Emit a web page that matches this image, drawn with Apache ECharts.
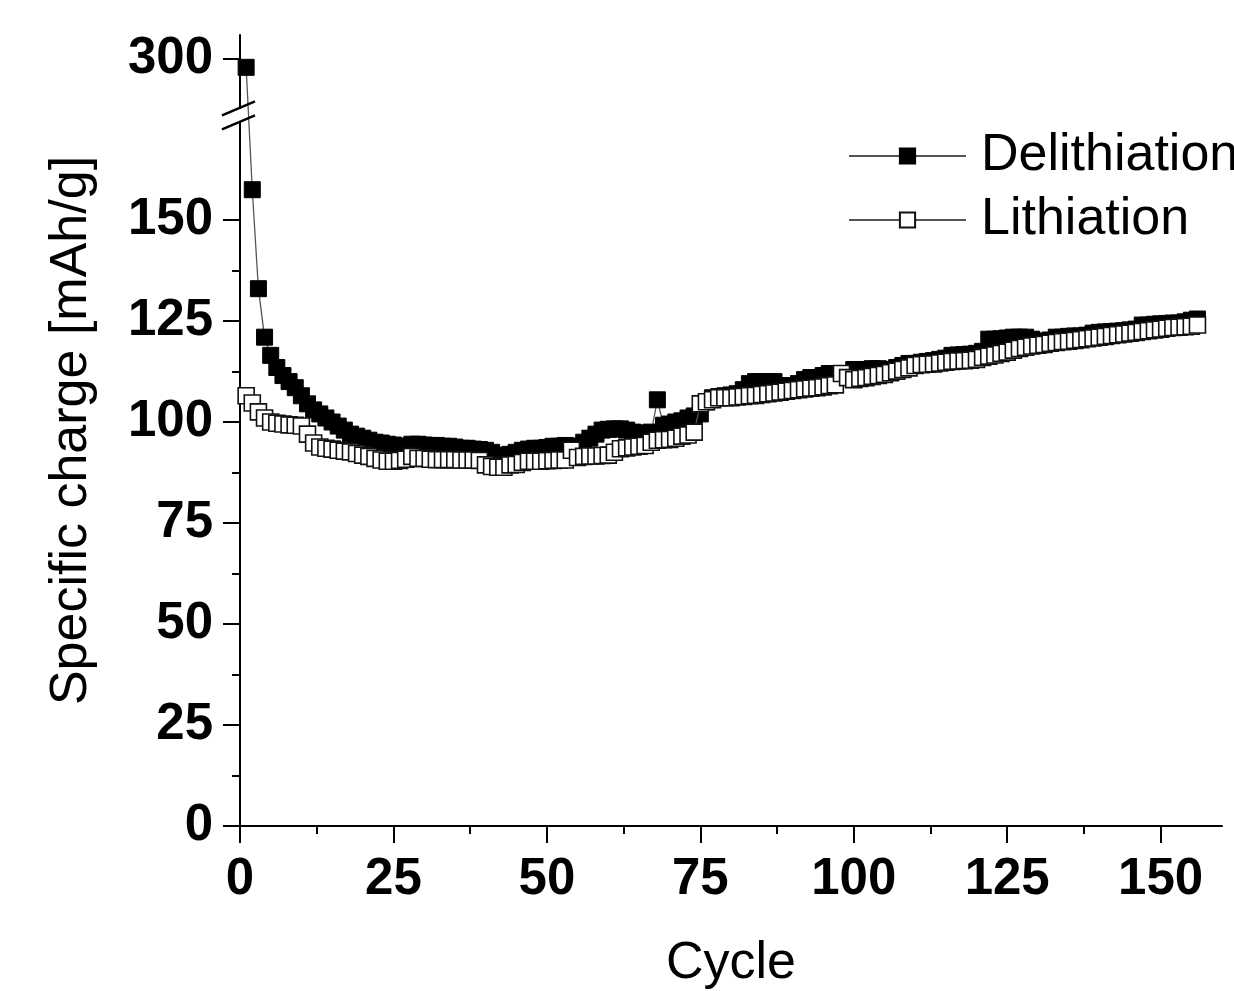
<!DOCTYPE html>
<html>
<head>
<meta charset="utf-8">
<script src="https://cdn.jsdelivr.net/npm/echarts@6/dist/echarts.min.js"></script>
<style>
  html, body { margin: 0; padding: 0; background: #fff; }
  #chart { width: 1234px; height: 991px; }
</style>
</head>
<body>
<div id="chart"></div>
<script>
// 读图估计的数据，每个循环一个点
const delithiation = [
  298, 157.5, 133, 121, 116.5, 113.5, 111.5, 110, 108.5, 106.5,
  104.5, 103, 102, 101, 100, 99, 98, 97, 96.5, 96,
  95.5, 95, 94.8, 94.5, 94.3, 94, 94, 94.5, 94.5, 94.3,
  94.2, 94.2, 94, 94, 93.8, 93.5, 93.5, 93.3, 93.2, 93,
  92.5, 91, 91.8, 92, 92.5, 93, 93.3, 93.5, 93.5, 93.7,
  94, 94, 94.2, 94, 94, 95, 96, 97, 98, 98.2,
  98.3, 98.3, 98, 97.5, 97.3, 97.2, 97.5, 105.5, 99.2, 99.5,
  100, 100.3, 101, 101.5, 102, 105, 106, 106.3, 106.5, 106.7,
  107, 108, 109.5, 110, 110, 110, 110, 109, 109, 109,
  109.5, 110.5, 111, 111, 111.5, 112, 112, 111.5, 112, 113,
  113, 113, 113.2, 113.2, 113, 113, 113.5, 114, 114.5, 114.5,
  114.8, 115, 115.2, 115.5, 115.8, 116.5, 116.6, 116.7, 116.8, 117,
  117.5, 120.5, 120.5, 120.6, 120.8, 121, 121, 121, 120.5, 120,
  120, 120.3, 121, 121, 121.2, 121.3, 121.3, 121.5, 122, 122.2,
  122.3, 122.4, 122.5, 122.6, 122.8, 123, 124, 124, 124.2, 124.3,
  124.4, 124.5, 124.5, 124.8, 125.2, 125.5
];
const lithiation = [
  106.5, 104.7, 102.5, 101, 100, 99.7, 99.5, 99.3, 99.2, 99,
  97, 94.8, 93.8, 93.5, 93.3, 93, 92.8, 92.6, 92.2, 91.8,
  91.5, 91, 90.6, 90.3, 90.3, 90.5, 90.8, 91.5, 91, 91,
  90.8, 90.7, 90.7, 90.7, 90.7, 90.6, 90.6, 90.6, 90.5, 89.4,
  89, 88.8, 88.8, 89.4, 89.5, 90, 90.3, 90.3, 90.3, 90.4,
  90.5, 90.6, 90.6, 93, 91.2, 91.5, 91.6, 91.6, 91.7, 91.8,
  92.5, 93.4, 93.6, 93.8, 94, 94.2, 95, 95.5, 95.6, 95.7,
  96, 96.5, 96.8, 97.5, 104.5, 105, 105.5, 106, 106, 106,
  106.2, 106.3, 106.5, 106.6, 106.8, 107, 107.2, 107.4, 107.6, 107.8,
  108, 108.2, 108.4, 108.5, 108.7, 109, 109.2, 112, 111, 110.5,
  110.8, 111, 111.3, 111.5, 111.8, 112.2, 112.6, 113, 113.4, 114,
  114.2, 114.3, 114.4, 114.6, 114.8, 115, 115.1, 115.2, 115.3, 115.5,
  116, 116.3, 116.6, 117, 117.3, 117.8, 118.2, 118.5, 118.8, 119,
  119.2, 119.5, 119.7, 119.9, 120, 120.2, 120.4, 120.6, 120.8, 121,
  121.2, 121.4, 121.6, 121.8, 122, 122.2, 122.4, 122.6, 122.8, 123,
  123.2, 123.4, 123.5, 123.6, 123.7, 124
];
const cycles = delithiation.map((_, i) => i + 1);
const seriesNames = ["Delithiation", "Lithiation"];
const yTicks = [0, 25, 50, 75, 100, 125, 150, 300];
const xTicks = [0, 25, 50, 75, 100, 125, 150];
const yBreak = { start: 174, end: 288 };

const font = "'Liberation Sans', Arial, sans-serif";
const myChart = echarts.init(document.getElementById("chart"));

function axisCommon(ticks) {
  return {
    axisLine: { show: true, lineStyle: { color: "#000", width: 2 } },
    axisTick: {
      show: true,
      inside: false,
      length: 17,
      customValues: ticks,
      lineStyle: { color: "#000", width: 2 },
    },
    minorTick: { show: true, splitNumber: 2, length: 8, lineStyle: { color: "#000", width: 2 } },
    splitLine: { show: false },
    axisLabel: {
      customValues: ticks,
      fontFamily: font,
      fontSize: 51,
      fontWeight: "bold",
      color: "#000",
    },
    nameTextStyle: { fontFamily: font, fontSize: 52, color: "#000" },
  };
}

const xAxis = axisCommon(xTicks);
xAxis.axisLabel.margin = 28;
const yAxis = axisCommon(yTicks);
yAxis.axisLabel.margin = 27;

var option = {
  backgroundColor: "#fff",
  animation: false,
  grid: {
    left: 240,
    right: 12,
    top: 35,
    bottom: 165,
    containLabel: false,
    outerBoundsMode: "none",
  },
  legend: {
    orient: "vertical",
    left: 843,
    top: 125,
    itemWidth: 117,
    itemHeight: 19,
    itemGap: 12,
    data: seriesNames,
    textStyle: { fontFamily: font, fontSize: 52, color: "#000", lineHeight: 50, padding: [0, 0, 0, 10] },
  },
  xAxis: Object.assign(xAxis, {
    type: "value",
    min: 0,
    max: 160,
    interval: 25,
    name: "Cycle",
    nameLocation: "middle",
    nameGap: 112,
  }),
  yAxis: Object.assign(yAxis, {
    type: "value",
    min: 0,
    max: 306,
    interval: 25,
    name: "Specific charge [mAh/g]",
    nameLocation: "middle",
    nameGap: 142,
    breaks: [{ start: yBreak.start, end: yBreak.end, gap: 3.8 }],
    breakArea: { show: false, expandOnClick: false },
  }),
  series: [
    {
      name: seriesNames[0],
      type: "line",
      data: cycles.map((c, i) => [c, delithiation[i]]),
      symbol: "rect",
      symbolSize: 16,
      showAllSymbol: true,
      itemStyle: { color: "#000", borderColor: "#000", borderWidth: 1 },
      lineStyle: { color: "#555", width: 1.3 },
      z: 2,
    },
    {
      name: seriesNames[1],
      type: "line",
      data: cycles.map((c, i) => [c, lithiation[i]]),
      symbol: "rect",
      symbolSize: 16,
      showAllSymbol: true,
      itemStyle: { color: "#fff", borderColor: "#111", borderWidth: 1.6 },
      lineStyle: { color: "#555", width: 1.3 },
      z: 3,
    },
  ],
};

myChart.setOption(option);

// 断轴的两条斜线
const x0 = myChart.convertToPixel({ xAxisIndex: 0 }, 0);
const yA = myChart.convertToPixel({ yAxisIndex: 0 }, yBreak.end);
const yB = myChart.convertToPixel({ yAxisIndex: 0 }, yBreak.start);
const mid = (yA + yB) / 2;
const slash = (dy) => ({
  type: "line",
  shape: { x1: x0 - 18, y1: mid + dy + 7, x2: x0 + 15, y2: mid + dy - 7 },
  style: { stroke: "#000", lineWidth: 2.5 },
  z: 10,
});
myChart.setOption({ graphic: [slash(-7), slash(7)] });
</script>
</body>
</html>
